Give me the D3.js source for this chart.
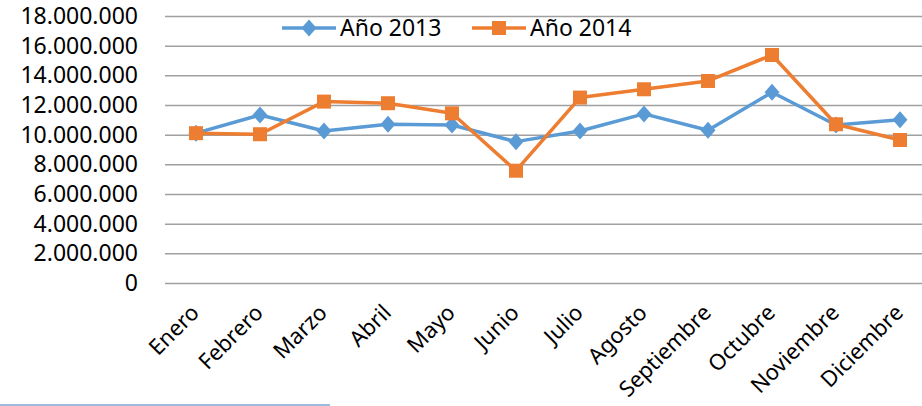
<!DOCTYPE html>
<html lang="es">
<head>
<meta charset="utf-8">
<title>Año 2013 / Año 2014</title>
<script src="https://cdn.jsdelivr.net/npm/d3@7"></script>
<style>
  * { margin: 0; padding: 0; }
  body { background: #fff; }
  svg { display: block; }
  text { font-family: "Noto Sans", "Open Sans", sans-serif; fill: #000; }
</style>
</head>
<body>
<div id="chart"></div>
<script>
  // datos
  const meses = ["Enero","Febrero","Marzo","Abril","Mayo","Junio","Julio","Agosto","Septiembre","Octubre","Noviembre","Diciembre"];
  const anio2013 = [10100000, 11330000, 10250000, 10700000, 10650000, 9530000, 10250000, 11400000, 10300000, 12860000, 10650000, 11000000];
  const anio2014 = [10100000, 10030000, 12230000, 12120000, 11440000, 7570000, 12500000, 13060000, 13620000, 15370000, 10700000, 9640000];
  const yTicks = [0, 2000000, 4000000, 6000000, 8000000, 10000000, 12000000, 14000000, 16000000, 18000000];

  const W = 922, H = 406;
  const svg = d3.select("#chart").append("svg")
                .attr("width", W).attr("height", H);

  const x = d3.scalePoint().domain(meses).range([164, 932]).padding(0.5);
  const y = d3.scaleLinear().domain([0, 18000000]).range([283, 16]);

  const fmt = d => d3.format(",")(d).replace(/,/g, ".");

  // rejilla
  const yAxis = svg.append("g")
      .attr("transform", "translate(165,0)")
      .call(d3.axisLeft(y).tickValues(yTicks).tickSize(-W).tickFormat(fmt).tickPadding(27));
  yAxis.select(".domain").remove();
  yAxis.selectAll(".tick line").attr("stroke", "#a0a0a0").attr("stroke-width", 1.5);
  yAxis.selectAll(".tick text").style("font-size", "23px").attr("fill", "#000");

  // eje x
  const xAxis = svg.append("g")
      .attr("transform", "translate(0,283)")
      .call(d3.axisBottom(x).tickSize(0).tickPadding(0));
  xAxis.select(".domain").remove();
  xAxis.selectAll(".tick text")
      .style("font-size", "22px")
      .attr("fill", "#000")
      .attr("text-anchor", "end")
      .attr("dy", 0)
      .attr("transform", "translate(4,31) rotate(-45)");

  // rombo un poco más ancho que el de d3
  const rombo = (w, h) => `M0,${-h/2}L${w/2},0L0,${h/2}L${-w/2},0Z`;
  const cuadrado = s => `M${-s/2},${-s/2}h${s}v${s}h${-s}Z`;

  const series = [
    { name: "Año 2013", values: anio2013, color: "#5b9bd5", marker: rombo(15, 17) },
    { name: "Año 2014", values: anio2014, color: "#ed7d31", marker: cuadrado(14) }
  ];

  const line = d3.line().x((d, i) => x(meses[i])).y(d => y(d));

  series.forEach(s => {
    const g = svg.append("g");
    g.append("path")
      .attr("d", line(s.values))
      .attr("fill", "none")
      .attr("stroke", s.color)
      .attr("stroke-width", 3.5)
      .attr("stroke-linejoin", "round");
    g.selectAll("path.m")
      .data(s.values)
      .join("path")
      .attr("class", "m")
      .attr("d", s.marker)
      .attr("transform", (d, i) => `translate(${x(meses[i])},${y(d)})`)
      .attr("fill", s.color);
  });

  // leyenda
  const legX = [282, 472];
  series.forEach((s, i) => {
    const g = svg.append("g").attr("transform", `translate(${legX[i]},28)`);
    g.append("line").attr("x1", 0).attr("x2", 54).attr("y1", 0).attr("y2", 0)
      .attr("stroke", s.color).attr("stroke-width", 3.5);
    g.append("path")
      .attr("d", s.marker)
      .attr("transform", "translate(27,0)")
      .attr("fill", s.color);
    g.append("text").attr("x", 58).attr("y", 8)
      .style("font-size", "23px").text(s.name);
  });

  // borde inferior
  svg.append("line").attr("x1", 0).attr("x2", 330).attr("y1", 405).attr("y2", 405)
    .attr("stroke", "#7ba3d0").attr("stroke-width", 1.5);
</script>
</body>
</html>
